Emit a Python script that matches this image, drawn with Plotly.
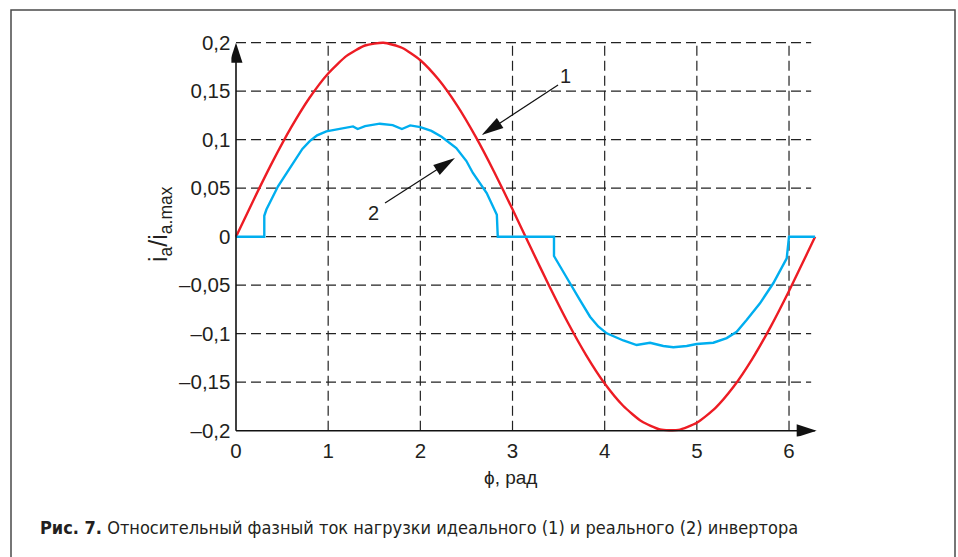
import plotly.graph_objects as go
import math

# ---- data ----
red_x = [0, 0.2, 0.4, 0.6, 0.8, 1.0, 1.2, 1.4, 1.6, 1.8, 2.0, 2.2, 2.4, 2.6, 2.8, 3.0,
         3.2, 3.4, 3.6, 3.8, 4.0, 4.2, 4.4, 4.6, 4.8, 5.0, 5.2, 5.4, 5.6, 5.8, 6.0, 6.2, 6.283]
red_y = [0, 0.0397, 0.0779, 0.1129, 0.1435, 0.1683, 0.1864, 0.1971, 0.1999, 0.1948, 0.1819,
         0.1617, 0.1351, 0.1031, 0.0670, 0.0282, -0.0117, -0.0511, -0.0885, -0.1223, -0.1514,
         -0.1743, -0.1903, -0.1987, -0.1992, -0.1918, -0.1767, -0.1545, -0.1262, -0.0929,
         -0.0559, -0.0166, 0]

blue_x = [0, 0.307, 0.307, 0.33, 0.456, 0.6, 0.72, 0.8, 0.88, 0.98, 1.1, 1.27, 1.32, 1.4, 1.56,
          1.7, 1.80, 1.89, 2.0, 2.12, 2.23, 2.39, 2.5, 2.57, 2.72, 2.83, 2.84, 3.45, 3.45,
          3.515, 3.624, 3.732, 3.841, 3.93, 4.022, 4.202, 4.347, 4.492, 4.636, 4.745, 4.89, 4.998,
          5.179, 5.324, 5.432, 5.54, 5.685, 5.829, 5.975, 6.0, 6.283]
blue_y = [0, 0, 0.0216, 0.028, 0.052, 0.0735, 0.0905, 0.0985, 0.1045, 0.1086, 0.111, 0.1137, 0.111,
          0.114, 0.1165, 0.115, 0.111, 0.1147, 0.113, 0.109, 0.103, 0.0914, 0.078, 0.0657,
          0.045, 0.0227, 0, 0, -0.0199, -0.0309, -0.048, -0.0653, -0.0825, -0.0925, -0.0996, -0.107,
          -0.1117, -0.1093, -0.1127, -0.114, -0.1127, -0.1106, -0.1093, -0.1045, -0.098,
          -0.0859, -0.0687, -0.048, -0.0223, 0, 0]

x_ticks = [0, 1, 2, 3, 4, 5, 6]
y_ticks = [0.2, 0.15, 0.1, 0.05, 0, -0.05, -0.1, -0.15, -0.2]
y_ticktext = ["0,2", "0,15", "0,1", "0,05", "0", "–0,05", "–0,1", "–0,15", "–0,2"]

# ---- layout geometry ----
W, H = 958, 557
PX_X = 92.17      # pixels per x unit
PX_Y = 970.0      # pixels per y unit
X0_PX = 236.0     # pixel of x=0
Y0_PX = 236.7     # pixel of y=0
XR = [-0.05, 6.4]
YR = [-0.206, 0.206]
xl = X0_PX + XR[0] * PX_X
xr = X0_PX + XR[1] * PX_X
yt = Y0_PX - YR[1] * PX_Y
yb = Y0_PX - YR[0] * PX_Y

TXT = "#231f20"
GRID = "#222222"
FONT = "Liberation Sans, Arial, sans-serif"
NARROW = "Liberation Sans Narrow, DejaVu Sans Condensed, Arial Narrow, sans-serif"

fig = go.Figure()
fig.add_trace(go.Scatter(x=red_x, y=red_y, mode="lines", line=dict(color="#ed1c24", width=2.4, shape="spline", smoothing=0.6),
                         hoverinfo="skip", showlegend=False))
fig.add_trace(go.Scatter(x=blue_x, y=blue_y, mode="lines", line=dict(color="#00aeef", width=2.4),
                         hoverinfo="skip", showlegend=False))

shapes = []
# grid
for xv in x_ticks[1:]:
    shapes.append(dict(type="line", xref="x", yref="y", x0=xv, x1=xv, y0=-0.2, y1=0.2,
                       line=dict(color=GRID, width=1.2, dash="10px,5px"), layer="below"))
for yv in y_ticks[:-1]:
    shapes.append(dict(type="line", xref="x", yref="y", x0=0, x1=6.24, y0=yv, y1=yv,
                       line=dict(color=GRID, width=1.2, dash="10px,5px"), layer="below"))
# axes lines
shapes.append(dict(type="line", xref="x", yref="y", x0=0, x1=0, y0=-0.2, y1=0.19,
                   line=dict(color="#111111", width=1.6)))
shapes.append(dict(type="line", xref="x", yref="y", x0=0, x1=6.28, y0=-0.2, y1=-0.2,
                   line=dict(color="#111111", width=1.6)))


def head(tx, ty, dx, dy, L=20, Wd=13):
    """triangle arrow head at data point (tx,ty) pointing in pixel direction (dx,dy), y up"""
    n = math.hypot(dx, dy)
    ux, uy = dx / n, dy / n
    px, py = -uy, ux
    bx, by = -L * ux, -L * uy
    h = Wd / 2
    p = f"M 0 0 L {bx + px*h:.2f} {by + py*h:.2f} L {bx - px*h:.2f} {by - py*h:.2f} Z"
    return dict(type="path", xref="x", yref="y", xsizemode="pixel", ysizemode="pixel",
                xanchor=tx, yanchor=ty, path=p, fillcolor="#111111", line=dict(width=0))


shapes.append(head(0, 0.2, 0, 1))
shapes.append(head(6.30, -0.2, 1, 0))

# pointer arrows
arrows = [((3.494, 0.1564), (2.666, 0.1048)), ((1.617, 0.0347), (2.376, 0.0811))]
for (ax, ay), (tx, ty) in arrows:
    dxp = (tx - ax) * PX_X
    dyp = (ty - ay) * PX_Y
    shapes.append(dict(type="line", xref="x", yref="y", x0=ax, y0=ay,
                       x1=tx - (tx - ax) * 0.15, y1=ty - (ty - ay) * 0.15,
                       line=dict(color="#111111", width=1.2)))
    shapes.append(head(tx, ty, dxp, dyp, L=22, Wd=12))

# outer frame
shapes.append(dict(type="rect", xref="paper", yref="paper", x0=11 / W, x1=955 / W,
                   y0=-0.05, y1=1 - 10 / H, line=dict(color="#4a4a4a", width=1.5), layer="below"))

annotations = [
    dict(text="1", x=3.57, y=0.166, xref="x", yref="y", showarrow=False,
         xanchor="center", yanchor="middle", font=dict(family=FONT, size=20, color=TXT)),
    dict(text="2", x=1.49, y=0.024, xref="x", yref="y", showarrow=False,
         xanchor="center", yanchor="middle", font=dict(family=FONT, size=20, color=TXT)),
    dict(text="i<sub>a</sub>/i<sub>a.max</sub>", x=160 / W, y=1 - 224 / H, xref="paper", yref="paper",
         xanchor="center", yanchor="middle",
         textangle=-90, showarrow=False, font=dict(family=FONT, size=25, color=TXT)),
    dict(text="ϕ, рад", x=511 / W, y=1 - 477 / H, xref="paper", yref="paper", showarrow=False,
         xanchor="center", yanchor="middle", font=dict(family=FONT, size=19, color=TXT)),
    dict(text="<b>Рис. 7.</b> Относительный фазный ток нагрузки идеального (1) и реального (2) инвертора",
         x=38 / W, y=1 - 527 / H, xref="paper", yref="paper", xanchor="left", yanchor="middle",
         showarrow=False, font=dict(family=NARROW, size=18, color=TXT)),
]

fig.update_layout(
    width=W, height=H, margin=dict(l=0, r=0, t=0, b=0, autoexpand=False),
    paper_bgcolor="white", plot_bgcolor="white",
    shapes=shapes, annotations=annotations,
    xaxis=dict(range=XR, domain=[xl / W, xr / W], showgrid=False, zeroline=False, showline=False,
               tickvals=x_ticks, ticktext=[str(v) for v in x_ticks], ticks="", automargin=False,
               tickfont=dict(family=FONT, size=20.5, color=TXT), fixedrange=True),
    yaxis=dict(range=YR, domain=[1 - yb / H, 1 - yt / H], showgrid=False, zeroline=False, showline=False,
               tickvals=y_ticks, ticktext=y_ticktext, ticks="", automargin=False,
               tickfont=dict(family=FONT, size=20.5, color=TXT), fixedrange=True),
)

fig.write_html("out.html")
